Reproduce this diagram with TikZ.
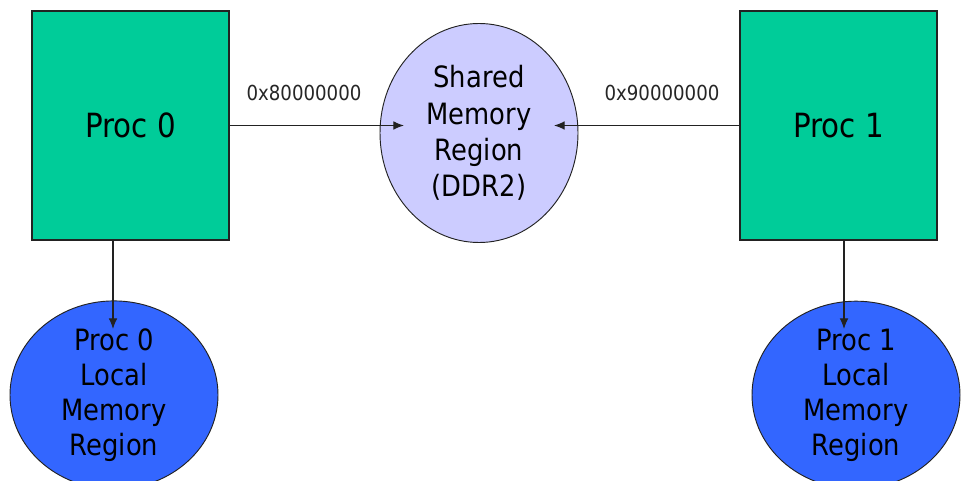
\documentclass[tikz,border=0pt]{standalone}
\usepackage{fontspec}
\setmainfont{DejaVu Sans}[FakeStretch=0.88]
\usetikzlibrary{arrows.meta,shapes.geometric}
\definecolor{procgreen}{HTML}{00CC99}
\definecolor{sharedlav}{HTML}{CCCCFF}
\definecolor{localblue}{HTML}{3366FF}
\definecolor{edgegray}{HTML}{222222}
\begin{document}
\begin{tikzpicture}[x=0.75pt,y=-0.75pt,
  procbox/.style={draw=edgegray, line width=0.8pt, fill=procgreen, minimum width=147.75pt, minimum height=171.75pt, inner sep=0pt, font=\fontsize{25}{30}\selectfont},
  sharedell/.style={ellipse, draw=edgegray, line width=0.7pt, fill=sharedlav, minimum width=148.5pt, minimum height=164.25pt, inner sep=0pt, align=center, font=\fontsize{22}{27.3}\selectfont},
  localell/.style={ellipse, draw=edgegray, line width=0.7pt, fill=localblue, minimum width=156pt, minimum height=131.25pt, inner sep=0pt, align=center, font=\fontsize{22}{26.3}\selectfont},
  addr/.style={font=\fontsize{15.5}{18}\selectfont, text=black!85, inner sep=0pt},
  arr/.style={draw=edgegray, line width=0.8pt, -{Latex[length=8pt,width=6.5pt]}}
]
\useasboundingbox (0,0) rectangle (962,481);
\fill[white] (0,0) rectangle (962,481);

\node[procbox] (p0) at (130.5,125.5) {Proc 0};
\node[procbox] (p1) at (838.5,125.5) {Proc 1};
\node[sharedell] (sm) at (479,133) {Shared\\Memory\\Region\\(DDR2)};
\node[localell] (l0) at (114,395) {Proc 0\\Local\\Memory\\Region};
\node[localell] (l1) at (856,395) {Proc 1\\Local\\Memory\\Region};

\node[addr] (a0) at (304,93) {0x80000000};
\node[addr] (a1) at (662,93) {0x90000000};

\coordinate (smL) at (404,125.5);
\coordinate (smR) at (554,125.5);
\coordinate (p0b) at (113,240);
\coordinate (l0t) at (113,329);
\coordinate (p1b) at (844,240);
\coordinate (l1t) at (844,329);

\draw[arr] (p0.east) -- (smL);
\draw[arr] (p1.west) -- (smR);
\draw[arr] (p0b) -- (l0t);
\draw[arr] (p1b) -- (l1t);
\end{tikzpicture}
\end{document}
